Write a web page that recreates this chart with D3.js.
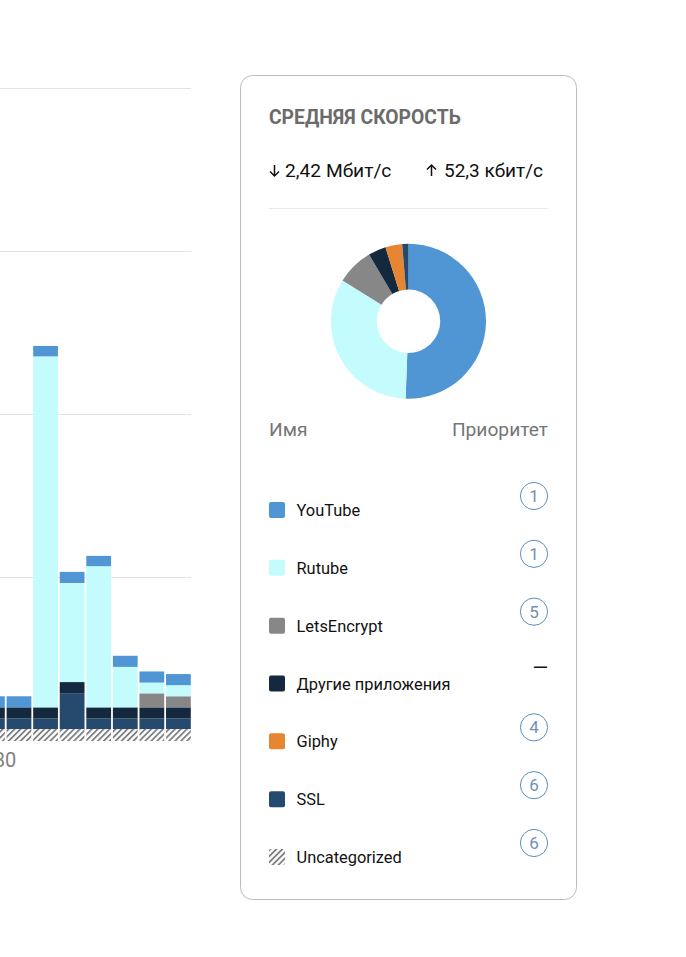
<!DOCTYPE html>
<html>
<head>
<meta charset="utf-8">
<script src="https://cdn.jsdelivr.net/npm/d3@7"></script>
<style>
  html, body { margin: 0; padding: 0; background: #fff; overflow: hidden; }
  text { font-family: Roboto, sans-serif; }
</style>
</head>
<body>
<div id="chart"></div>
<script>
// chart values
var buckets = [79, 80, 81, 82, 83, 84, 85, 86];
var uncategorized = [0.73, 0.73, 0.73, 0.73, 0.73, 0.73, 0.73, 0.73];
var ssl = [0.65, 0.65, 0.65, 2.2, 0.65, 0.65, 0.65, 0.65];
var other = [0.68, 0.68, 0.68, 0.68, 0.68, 0.68, 0.68, 0.68];
var letsEncrypt = [0, 0, 0, 0, 0, 0, 0.86, 0.68];
var rutube = [0, 0, 21.5, 6.07, 8.65, 2.48, 0.66, 0.68];
var youtube = [0.68, 0.68, 0.64, 0.68, 0.63, 0.68, 0.68, 0.68];
var giphy = [0, 0, 0, 0, 0, 0, 0, 0];

var gridValues = [10, 20, 30, 40];
var xTicks = [80];

var legendNames = ["YouTube", "Rutube", "LetsEncrypt", "Другие приложения", "Giphy", "SSL", "Uncategorized"];
var legendColors = ["#5096d5", "#c4fcfe", "#878787", "#14293d", "#e68632", "#264a6e", "url(#hatch)"];
var priorities = ["1", "1", "5", "—", "4", "6", "6"];
var shares = [50.6, 33.2, 7.7, 3.7, 3.5, 1.3, 0];

var width = 686, height = 957;

var svg = d3.select("#chart").append("svg")
  .attr("width", width)
  .attr("height", height)
  .style("display", "block");

var defs = svg.append("defs");
var hatch = defs.append("pattern")
  .attr("id", "hatch")
  .attr("width", 4.2)
  .attr("height", 4.2)
  .attr("patternUnits", "userSpaceOnUse")
  .attr("patternTransform", "rotate(45)");
hatch.append("rect").attr("width", 4.2).attr("height", 4.2).attr("fill", "#fff");
hatch.append("rect").attr("width", 1.8).attr("height", 4.2).attr("fill", "#7f7f7f");

// ---- stacked bars, left part of the page is cut off by the window
var x = d3.scaleLinear().domain([80, 87]).range([6.6, 192.6]);
var y = d3.scaleLinear().domain([0, 40]).range([741, 88]);

var stackColors = ["url(#hatch)", "#264a6e", "#14293d", "#878787", "#e68632", "#c4fcfe", "#5096d5"];
var series = [uncategorized, ssl, other, letsEncrypt, giphy, rutube, youtube];

var grid = svg.append("g");
grid.selectAll("line")
  .data(gridValues)
  .enter().append("line")
  .attr("x1", 0)
  .attr("x2", 191)
  .attr("y1", function(d) { return Math.floor(y(d)) + 0.5; })
  .attr("y2", function(d) { return Math.floor(y(d)) + 0.5; })
  .attr("stroke", "#e3e3e3");

var rows = buckets.map(function(b, i) {
  var row = {bucket: b};
  series.forEach(function(s, k) { row["s" + k] = s[i]; });
  return row;
});
var stack = d3.stack().keys(series.map(function(s, k) { return "s" + k; }));

var layers = svg.append("g").selectAll("g")
  .data(stack(rows))
  .enter().append("g")
  .attr("fill", function(d, i) { return stackColors[i]; });

layers.selectAll("rect")
  .data(function(d) { return d; })
  .enter().append("rect")
  .attr("x", function(d) { return x(d.data.bucket); })
  .attr("width", x(81) - x(80) - 1.8)
  .attr("y", function(d) { return y(d[1]); })
  .attr("height", function(d) { return y(d[0]) - y(d[1]); });

var xAxis = d3.axisBottom(x).tickValues(xTicks).tickFormat(d3.format("d")).tickSize(0).tickPadding(12);
var xg = svg.append("g")
  .attr("transform", "translate(0,741)")
  .call(xAxis);
xg.select(".domain").remove();
xg.selectAll("text")
  .attr("dx", -2)
  .attr("font-family", "Roboto, sans-serif")
  .attr("font-size", 20)
  .attr("fill", "#808080");

// ---- card
var card = svg.append("g");
card.append("rect")
  .attr("x", 240.5)
  .attr("y", 75.5)
  .attr("width", 336)
  .attr("height", 824)
  .attr("rx", 12)
  .attr("fill", "#fff")
  .attr("stroke", "#bcbcbc");

card.append("text")
  .attr("x", 269)
  .attr("y", 124)
  .attr("font-size", 19.3)
  .attr("font-weight", 700)
  .attr("fill", "#6b6b6b")
  .text("СРЕДНЯЯ СКОРОСТЬ");

// arrows of the speed row
card.append("path")
  .attr("d", "M274.5 165V176M270 171.5L274.5 176L279 171.5")
  .attr("fill", "none").attr("stroke", "#111").attr("stroke-width", 1.5);
card.append("path")
  .attr("d", "M431.5 176V165M427 169.5L431.5 165L436 169.5")
  .attr("fill", "none").attr("stroke", "#111").attr("stroke-width", 1.5);

card.append("text").attr("x", 285).attr("y", 177)
  .attr("font-size", 19.2).attr("fill", "#111").text("2,42 Мбит/с");
card.append("text").attr("x", 444).attr("y", 177)
  .attr("font-size", 19).attr("fill", "#111").text("52,3 кбит/с");

card.append("line")
  .attr("x1", 269).attr("x2", 548)
  .attr("y1", 208.5).attr("y2", 208.5)
  .attr("stroke", "#eaeaea");

// ---- donut
var arc = d3.arc().outerRadius(77.5).innerRadius(31.7);
var pie = d3.pie().sort(null).value(function(d) { return d; });

card.append("g")
  .attr("transform", "translate(408.5,321.3)")
  .selectAll("path")
  .data(pie(shares))
  .enter().append("path")
  .attr("d", arc)
  .attr("fill", function(d, i) { return legendColors[i]; });

// ---- list head
card.append("text").attr("x", 269).attr("y", 436)
  .attr("font-size", 19.2).attr("fill", "#757575").text("Имя");
card.append("text").attr("x", 548).attr("y", 436)
  .attr("text-anchor", "end")
  .attr("font-size", 19.2).attr("fill", "#757575").text("Приоритет");

// ---- legend rows
var rowY = d3.scalePoint().domain(legendNames).range([510, 857]);

var legend = card.selectAll(".row")
  .data(legendNames)
  .enter().append("g")
  .attr("class", "row")
  .attr("transform", function(d) { return "translate(0," + rowY(d) + ")"; });

legend.append("rect")
  .attr("x", 269)
  .attr("y", -8)
  .attr("width", 16)
  .attr("height", 16)
  .attr("rx", 2)
  .attr("fill", function(d, i) { return legendColors[i]; });

legend.append("text")
  .attr("x", 296.5)
  .attr("y", 6)
  .attr("font-size", 16.4)
  .attr("fill", "#111")
  .text(function(d) { return d; });

legend.each(function(d, i) {
  var g = d3.select(this);
  if (priorities[i] === "—") {
    g.append("text")
      .attr("x", 548)
      .attr("y", -9)
      .attr("text-anchor", "end")
      .attr("font-size", 20)
      .attr("fill", "#111")
      .text(priorities[i]);
    return;
  }
  g.append("circle")
    .attr("cx", 534)
    .attr("cy", -14)
    .attr("r", 13.6)
    .attr("fill", "none")
    .attr("stroke", "#5a8fc0");
  g.append("text")
    .attr("x", 534)
    .attr("y", -8)
    .attr("text-anchor", "middle")
    .attr("font-size", 17)
    .attr("fill", "#7390b3")
    .text(priorities[i]);
});
</script>
</body>
</html>
